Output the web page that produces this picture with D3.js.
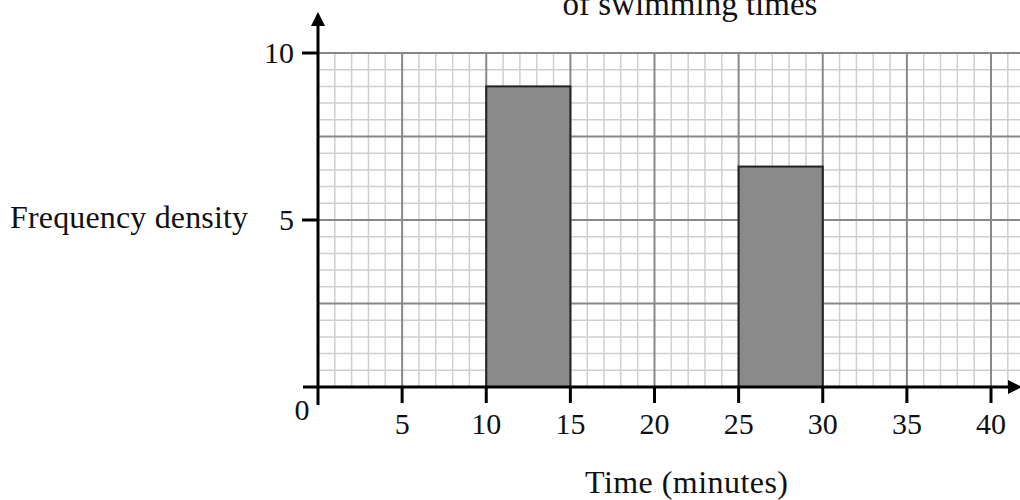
<!DOCTYPE html>
<html>
<head>
<meta charset="utf-8">
<script src="https://cdn.jsdelivr.net/npm/d3@7"></script>
<style>
  body { margin: 0; background: #fff; }
  text { font-family: "Liberation Serif", "DejaVu Serif", serif; fill: #111; }
</style>
</head>
<body>
<div id="chart"></div>
<script>
// histogram of swimming times
var binStarts = [10, 25];
var binEnds = [15, 30];
var densities = [9, 6.6];
var xTicks = [5, 10, 15, 20, 25, 30, 35, 40];
var yTicks = [5, 10];

var width = 1020, height = 500;
var x0 = 318, y0 = 387;

var x = d3.scaleLinear().domain([0, 40]).range([x0, 991]);
var y = d3.scaleLinear().domain([0, 10]).range([y0, 53]);
var xMax = x.invert(width);

var svg = d3.select("#chart").append("svg")
    .attr("width", width).attr("height", height);

// graph paper: minor lines
var grid = svg.append("g");
grid.selectAll(".vminor").data(d3.range(1, Math.floor(xMax) + 1).filter(d => d % 5 != 0))
  .enter().append("line")
    .attr("x1", d => x(d)).attr("x2", d => x(d))
    .attr("y1", y(0)).attr("y2", y(10))
    .attr("stroke", "#cfcfcf").attr("stroke-width", 1.5);
grid.selectAll(".hminor").data(d3.range(0.5, 10, 0.5).filter(d => d % 2.5 != 0))
  .enter().append("line")
    .attr("x1", x(0)).attr("x2", width)
    .attr("y1", d => y(d)).attr("y2", d => y(d))
    .attr("stroke", "#cfcfcf").attr("stroke-width", 1.5);
// major lines
grid.selectAll(".vmajor").data(d3.range(5, xMax, 5))
  .enter().append("line")
    .attr("x1", d => x(d)).attr("x2", d => x(d))
    .attr("y1", y(0)).attr("y2", y(10))
    .attr("stroke", "#888").attr("stroke-width", 2);
grid.selectAll(".hmajor").data([2.5, 5, 7.5, 10])
  .enter().append("line")
    .attr("x1", x(0)).attr("x2", width)
    .attr("y1", d => y(d)).attr("y2", d => y(d))
    .attr("stroke", "#888").attr("stroke-width", 2);

// bars
svg.selectAll(".bar").data(densities)
  .enter().append("rect")
    .attr("x", (d, i) => x(binStarts[i]))
    .attr("width", (d, i) => x(binEnds[i]) - x(binStarts[i]))
    .attr("y", d => y(d))
    .attr("height", d => y(0) - y(d))
    .attr("fill", "#8a8a8a")
    .attr("stroke", "#222")
    .attr("stroke-width", 2);

// axes
var axes = svg.append("g").attr("stroke", "#000").attr("stroke-width", 3);
axes.append("line").attr("x1", x0).attr("x2", x0).attr("y1", 405).attr("y2", 22);
axes.append("line").attr("x1", 303).attr("x2", 1012).attr("y1", y0).attr("y2", y0);
svg.append("path").attr("d", "M" + x0 + ",12 L" + (x0 - 7) + ",26 L" + (x0 + 7) + ",26 Z").attr("fill", "#000");
svg.append("path").attr("d", "M1022," + y0 + " L1008," + (y0 - 7) + " L1008," + (y0 + 7) + " Z").attr("fill", "#000");

// ticks
axes.selectAll(".xt").data(xTicks).enter().append("line")
    .attr("x1", d => x(d)).attr("x2", d => x(d))
    .attr("y1", y0).attr("y2", 403);
axes.selectAll(".yt").data(yTicks).enter().append("line")
    .attr("x1", 302).attr("x2", x0)
    .attr("y1", d => y(d)).attr("y2", d => y(d));

svg.selectAll(".xl").data(xTicks).enter().append("text")
    .attr("x", d => x(d)).attr("y", 434)
    .attr("text-anchor", "middle").attr("font-size", 30)
    .text(d => d);
svg.selectAll(".yl").data(yTicks).enter().append("text")
    .attr("x", 294).attr("y", d => y(d) + 10)
    .attr("text-anchor", "end").attr("font-size", 30)
    .text(d => d);
svg.append("text").attr("x", 302).attr("y", 420)
    .attr("text-anchor", "middle").attr("font-size", 30).text("0");

// labels
svg.append("text").attr("x", 10).attr("y", 228)
    .attr("font-size", 32).attr("textLength", 238).text("Frequency density");
svg.append("text").attr("x", 585).attr("y", 493)
    .attr("font-size", 32).attr("textLength", 203).text("Time (minutes)");
svg.append("text").attr("x", 690).attr("y", -20)
    .attr("text-anchor", "middle").attr("font-size", 33).text("Histogram showing the distribution");
svg.append("text").attr("x", 690).attr("y", 15)
    .attr("text-anchor", "middle").attr("font-size", 33).text("of swimming times");
</script>
</body>
</html>
